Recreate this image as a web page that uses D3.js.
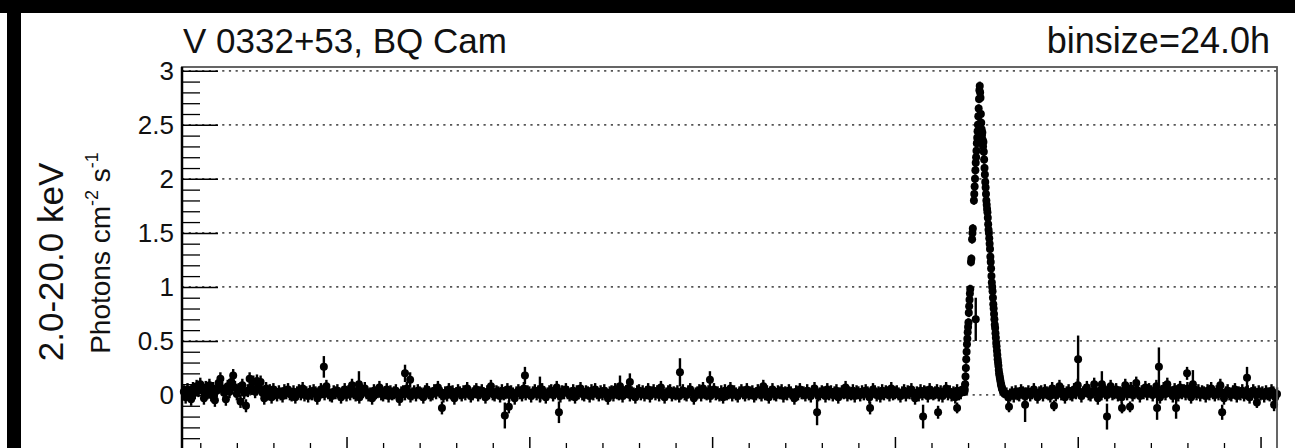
<!DOCTYPE html>
<html>
<head>
<meta charset="utf-8">
<script src="https://cdn.jsdelivr.net/npm/d3@7"></script>
<style>
body { margin: 0; background: #fff; }
svg { display: block; font-family: "Liberation Sans", Arial, sans-serif; }
</style>
</head>
<body>
<svg id="lc" width="1295" height="448"></svg>
<script>
// rates in photons cm^-2 s^-1
// quiet level before the outburst: one entry per 5 days from MJD 55055, in units of 0.01
let baseBefore = [
	3, -2, 5, 1, -4, 6, 2, 8, 4, 10, 5, -3, 7, 2, 9, 0, 6, -5, 4, 11,
	15, 6, 2, -4, 8, 3, 12, 18, 7, 1, 5, -6, 9, 2, -10, 4, 15, 6, 12, 3,
	13, 8, 12, 2, -3, 6, 1, 4, -2, 5,
	2, 0, 3, 1, -1, 4, 2, 5, 1, 0, 3, -2, 2, 4, 1, 6, 0, 2, -1, 3,
	1, 4, 2, -3, 0, 5, 3, 1, 8, 2, 0, -1, 3, 2, 4, 1, -2, 2, 5, 0,
	3, 1, 9, 2, 0, 4, -2, 1, 3, 6, 2, 0, 1, -3, 4, 2, 3, 7, 1, 0,
	2, 5, -1, 3, 1, 2, 4, 0, -4, 2, 3, 1, 6, 2, -1, 1, 3, 0, 4, 2,
	1, -2, 3, 5, 2, 0, 1, 4, 2, 7, 3, 1, -1, 2, 0, 5, 2, 3, -3, 1,
	4, 2, 0, 3, 1, 6, 2, -1, 1, 3, 5, 0, 2, 4, 1, -2, 3, 2, 8, 1,
	0, 3, 2, -1, 4, 1, 2, 5, 0, 3, 1, -3, 2, 4, 2, 0, 6, 1, 3, 2,
	-1, 2, 4, 1, 3, 0, 5, 2, -2, 1, 3, 4, 0, 2, 7, 1, -1, 3, 2, 5,
	2, 0, 1, 4, -2, 3, 2, 6, 1, 0, 3, 2, -1, 4, 1, 5, 2, 0, 3, 1,
	4, 1, -3, 2, 3, 0, 5, 2, 1, 4, -1, 2, 3, 6, 0, 2, 1, -2, 3, 4,
	1, 3, 0, 2, 5, -1, 2, 4, 1, 3, 0, 7, 2, -2, 1, 3, 4, 0, 2, 1,
	3, -1, 2, 4, 1, 0, 3, 5, 2, -3, 1, 2, 4, 0, 6, 2, 1, 3, -1, 2,
	5, 1, 2, 0, 3, -2, 4, 1, 2, 6, 0, 3, 1, -1, 2, 4, 2, 0, 5, 1,
	2, 3, -1, 1, 4, 2, 0, 8, 1, 3, -2, 2, 5, 1, 0, 3, 2, 4, -1, 2,
	1, 4, 2, 0, -3, 3, 1, 5, 2, 2, 0, 4, 1, -1, 3, 6, 2, 0, 1, 3,
	2, -1, 5, 1, 3, 0, 2, 4, -2, 1, 3, 2, 7, 0, 2, 1, 4, -1, 3, 2,
	0, 3, 1, 4, 2, -2, 1, 5, 3, 0, 2, -1, 4, 1, 3, 2, 0, 6, 1, 2,
	3, 1, -1, 2, 4, 0, 3, 2, 5, 1, -3, 2, 0, 4, 1, 3, 2, -1, 5, 2,
	1, 2, 4, 0, 3, -1, 2, 6, 1, 3, 0, 2, -2, 4, 1, 2, 5
];
// quiet level after the outburst: one entry per 5 days from MJD 57305, in units of 0.01
let baseAfter = [
	1, -2, 0, 2, -1, 3, 1, 0, 4, 2, -1, 1, 3, 0, 2, 5, 1, -2, 2, 3,
	0, 4, 2, 1, -1, 6, 3, 0, 2, 8, 1, 3, -2, 2, 4, 1, 0, 5, 2, 9,
	3, -1, 2, 4, 7, 1, 0, 3, 10, 2, -3, 4, 1, 6, 2, 0, 3, 8, 1, 2,
	5, 0, 2, -2, 4, 9, 1, 3, 6, 0, 2, 11, 4, -1, 3, 2, 7, 1, 5, 3,
	0, 4, 8, 2, -2, 3, 6, 1, 10, 4, 2, -1, 5, 3, 0, 7, 2, 4, 1, 6,
	3, -2, 2, 5, 1, 4, 0, 3, 2, -1, 4, 1, 6, 2, 0, 3, 1, 9, 2, -3,
	2, 4, 1, 0, 3, 5, -1, 2, 1, 4, 0, 2, 3, -2, 1, 4, 2, 0, 3, 1,
	2, -1, 3, 1, 0, 4, 2, -2, 1
];
let baseStartBefore = 55055, baseStartAfter = 57305, baseStep = 5;
let baseErr = 0.06;

// 2015 giant outburst, daily bins from MJD 57190 (null = no data)
let burstStart = 57190;
let burstRate = [
	0.03, 0.05, 0.10, 0.17, 0.25, 0.33, 0.40, 0.47, 0.52, 0.58,
	0.63, 0.67, 0.76, 0.82, 0.88, 0.94, 0.98, null, 1.23, 1.26,
	null, 1.44, 1.50, 1.54, null, null, 1.80, 1.86, 1.93, 2.00,
	2.08, 2.15, 2.20, 2.26, 2.33, 2.38, 2.44, 2.50, 2.58, 2.65,
	2.74, 2.82, 2.86, 2.80, 2.75, 2.60, 2.52, 2.46, 2.40, 2.43,
	2.36, 2.30, 2.34, 2.25, 2.18, 2.10, 2.04, 1.97, 1.92, 1.86,
	1.80, 1.76, 1.72, 1.69, 1.64, 1.58, 1.53, 1.50, 1.45, 1.40,
	1.35, 1.28, 1.23, 1.17, 1.10, 1.04, 1.00, 0.96, 0.90, 0.84,
	0.80, 0.75, 0.70, 0.65, 0.62, 0.57, 0.53, 0.48, 0.45, 0.41,
	0.37, 0.33, 0.30, 0.27, 0.23, 0.20, 0.18, 0.16, 0.14, 0.12,
	0.10, 0.09, 0.07, 0.06, 0.05, 0.04, 0.03, 0.03, 0.02, 0.02,
	0.01
];
let burstErr = 0.04;

// single bins that stand out of the quiet band, with their own errors
let outMjd  = [55438, 55534, 55660, 55674, 55761, 55933, 55944, 55988, 56029, 56081,
	56248, 56275, 56412, 56494, 56787, 56932, 57077, 57118, 57170, 57221,
	57312, 57356, 57435, 57501, 57566, 57580, 57621, 57643, 57717, 57722,
	57769, 57799, 57815, 57895, 57963, 57990, 58037];
let outRate = [0.26, 0.10, 0.20, 0.14, -0.12, -0.19, -0.11, 0.18, 0.05, -0.16,
	0.08, 0.12, 0.21, 0.14, -0.16, -0.12, -0.20, -0.16, -0.12, 0.70,
	-0.11, -0.09, -0.10, 0.33, 0.10, -0.20, -0.12, -0.11, -0.12, 0.26,
	-0.12, 0.20, 0.10, -0.16, 0.16, -0.07, -0.09];
let outErr  = [0.10, 0.12, 0.08, 0.07, 0.06, 0.12, 0.06, 0.08, 0.12, 0.10,
	0.10, 0.08, 0.13, 0.08, 0.12, 0.06, 0.11, 0.06, 0.05, 0.20,
	0.05, 0.16, 0.05, 0.22, 0.12, 0.12, 0.05, 0.05, 0.11, 0.18,
	0.10, 0.06, 0.13, 0.07, 0.10, 0.05, 0.06];

let yMajor = [0, 0.5, 1, 1.5, 2, 2.5, 3];
let yMinor = [-0.4, -0.3, -0.2, -0.1, 0.1, 0.2, 0.3, 0.4, 0.6, 0.7, 0.8, 0.9,
	1.1, 1.2, 1.3, 1.4, 1.6, 1.7, 1.8, 1.9, 2.1, 2.2, 2.3, 2.4, 2.6, 2.7, 2.8, 2.9];
let xMajor = [55500, 56000, 56500, 57000, 57500, 58000];
let xMinor = d3.range(55100, 58045, 100).filter(function(d) { return d % 500 != 0; });

let width = 1295, height = 448;
let frameL = 182, frameR = 1277, frameT = 67, frameB = 449;

let points = [];
baseBefore.forEach(function(d, i) { points.push({t: baseStartBefore + i*baseStep, v: d/100, e: baseErr}); });
baseAfter.forEach(function(d, i) { points.push({t: baseStartAfter + i*baseStep, v: d/100, e: baseErr}); });
burstRate.forEach(function(d, i) { if (d !== null) points.push({t: burstStart + i, v: d, e: burstErr}); });
outMjd.forEach(function(d, i) { points.push({t: d, v: outRate[i], e: outErr[i]}); });

let x = d3.scaleLinear().domain([55050, 58045]).range([frameL, frameR]);
let y = d3.scaleLinear().domain([-0.5, 3.035]).range([frameB, frameT]);

let svg = d3.select("#lc");

svg.append("rect").attr("width", width).attr("height", height).attr("fill", "#fff");

// grid
svg.append("g")
	.selectAll("line")
	.data(yMajor)
	.enter().append("line")
	.attr("x1", frameL).attr("x2", frameR)
	.attr("y1", function(d) { return y(d); })
	.attr("y2", function(d) { return y(d); })
	.attr("stroke", "#555")
	.attr("stroke-width", 1.8)
	.attr("stroke-dasharray", "2.2,4.5");

// error bars and markers
svg.append("g")
	.selectAll("line")
	.data(points)
	.enter().append("line")
	.attr("x1", function(d) { return x(d.t); })
	.attr("x2", function(d) { return x(d.t); })
	.attr("y1", function(d) { return y(d.v - d.e); })
	.attr("y2", function(d) { return y(d.v + d.e); })
	.attr("stroke", "#000")
	.attr("stroke-width", 2.4);

svg.append("g")
	.selectAll("circle")
	.data(points)
	.enter().append("circle")
	.attr("cx", function(d) { return x(d.t); })
	.attr("cy", function(d) { return y(d.v); })
	.attr("r", 4)
	.attr("fill", "#000");

// axes
svg.append("g")
	.attr("transform", "translate(" + frameL + ",0)")
	.call(d3.axisLeft(y).tickValues(yMinor).tickSize(-18).tickFormat(""))
	.call(function(g) { g.select(".domain").remove(); })
	.selectAll("line").attr("stroke-width", 1.3);

let yAxis = svg.append("g")
	.attr("transform", "translate(" + frameL + ",0)")
	.call(d3.axisLeft(y).tickValues(yMajor).tickSize(-36).tickPadding(8)
		.tickFormat(function(d) { return String(d); }));
yAxis.select(".domain").remove();
yAxis.selectAll("line").attr("stroke-width", 1.5);
yAxis.selectAll("text")
	.style("font-size", "26px")
	.attr("fill", "#111");

svg.append("g")
	.attr("transform", "translate(0," + frameB + ")")
	.call(d3.axisBottom(x).tickValues(xMinor).tickSize(-6).tickFormat(""))
	.call(function(g) { g.select(".domain").remove(); })
	.selectAll("line").attr("stroke-width", 1.3);

svg.append("g")
	.attr("transform", "translate(0," + frameB + ")")
	.call(d3.axisBottom(x).tickValues(xMajor).tickSize(-12).tickFormat(""))
	.call(function(g) { g.select(".domain").remove(); })
	.selectAll("line").attr("stroke-width", 1.5);

// frame
svg.append("rect")
	.attr("x", frameL).attr("y", frameT)
	.attr("width", frameR - frameL).attr("height", frameB - frameT)
	.attr("fill", "none")
	.attr("stroke", "#555")
	.attr("stroke-width", 1.8);
svg.append("line")
	.attr("x1", frameL).attr("x2", frameL)
	.attr("y1", frameT).attr("y2", frameB)
	.attr("stroke", "#000")
	.attr("stroke-width", 2.5);

// titles
svg.append("text")
	.attr("x", frameL + 1)
	.attr("y", 53)
	.style("font-size", "35px")
	.attr("fill", "#111")
	.text("V 0332+53, BQ Cam");

svg.append("text")
	.attr("x", 1270)
	.attr("y", 53)
	.style("text-anchor", "end")
	.style("font-size", "36px")
	.attr("fill", "#111")
	.text("binsize=24.0h");

svg.append("text")
	.attr("transform", "translate(63,262) rotate(-90)")
	.style("text-anchor", "middle")
	.style("font-size", "35px")
	.attr("fill", "#111")
	.text("2.0-20.0 keV");

let unit = svg.append("text")
	.attr("transform", "translate(110,253) rotate(-90)")
	.style("text-anchor", "middle")
	.style("font-size", "28px")
	.attr("fill", "#111");
unit.append("tspan").text("Photons cm");
unit.append("tspan").attr("dy", -12).style("font-size", "18px").text("-2");
unit.append("tspan").attr("dy", 12).text(" s");
unit.append("tspan").attr("dy", -12).style("font-size", "18px").text("-1");

// black border of the original image
svg.append("rect").attr("x", 0).attr("y", 0).attr("width", width).attr("height", 13).attr("fill", "#000");
svg.append("rect").attr("x", 7).attr("y", 0).attr("width", 14).attr("height", height).attr("fill", "#000");
</script>
</body>
</html>
